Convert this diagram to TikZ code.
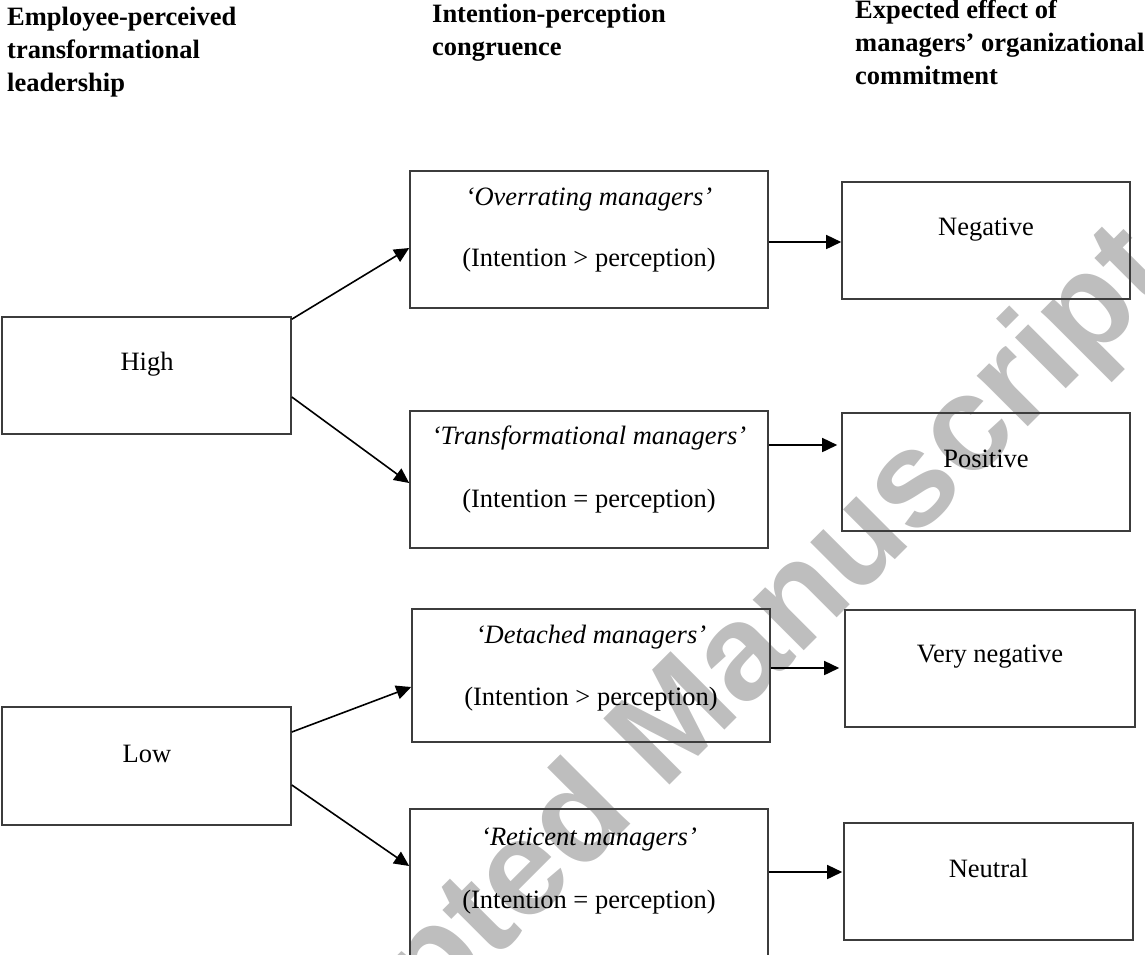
\documentclass[tikz,border=0pt]{standalone}
\usepackage{fontspec}
\setmainfont{Liberation Serif}
\newfontfamily\wmfont{Liberation Sans}
\usetikzlibrary{arrows.meta}
\definecolor{wmgray}{RGB}{190,190,190}
\definecolor{boxline}{RGB}{60,60,60}
\tikzset{
  box/.style={draw=boxline, line width=1.6pt, rectangle, inner sep=0pt},
  lbl/.style={anchor=base, inner sep=0pt, font=\fontsize{26.5}{31}\selectfont},
  ilbl/.style={lbl, font=\fontsize{26.5}{31}\selectfont\itshape},
  head/.style={anchor=base west, inner sep=0pt, font=\fontsize{26.5}{31}\selectfont\bfseries},
  arr/.style={draw=black, line width=1.6pt, -{Triangle[length=15pt,width=14pt]}},
}
\begin{document}
\begin{tikzpicture}[x=1pt,y=-1pt]
\useasboundingbox (0,0) rectangle (1145,954);
\clip (0,0) rectangle (1145,954);
% watermark
\node[anchor=base west, inner sep=0pt, rotate=45, text=wmgray,
      font=\fontsize{136}{136}\selectfont\wmfont\bfseries] (wm) at (204,1251) {Accepted Manuscript};
% headers
\node[head] (h1a) at (7,25) {Employee-perceived};
\node[head] (h1b) at (7,58) {transformational};
\node[head] (h1c) at (7,91) {leadership};
\node[head] (h2a) at (432,22) {Intention-perception};
\node[head] (h2b) at (432,55) {congruence};
\node[head] (h3a) at (855,18) {Expected effect of};
\node[head] (h3b) at (855,51) {managers’ organizational};
\node[head] (h3c) at (855,84) {commitment};
% boxes
\node[box, minimum width=289pt, minimum height=117pt] (high) at (146.5,375.5) {};
\node[box, minimum width=289pt, minimum height=118pt] (low) at (146.5,766) {};
\node[box, minimum width=358pt, minimum height=137pt] (over) at (589,239.5) {};
\node[box, minimum width=358pt, minimum height=137pt] (trans) at (589,479.5) {};
\node[box, minimum width=358pt, minimum height=133pt] (det) at (591,675.5) {};
\node[box, minimum width=358pt, minimum height=166pt] (ret) at (589,892) {};
\node[box, minimum width=288pt, minimum height=117pt] (neg) at (986,240.5) {};
\node[box, minimum width=288pt, minimum height=118pt] (pos) at (986,472) {};
\node[box, minimum width=290pt, minimum height=117pt] (vneg) at (990,668.5) {};
\node[box, minimum width=289pt, minimum height=117pt] (neu) at (988.5,881.5) {};
% texts
\node[lbl] (thigh) at (147,370) {High};
\node[lbl] (tlow) at (147,762) {Low};
\node[ilbl] (tover1) at (589,205) {‘Overrating managers’};
\node[lbl] (tover2) at (589,266) {(Intention > perception)};
\node[ilbl] (ttrans1) at (589,444) {‘Transformational managers’};
\node[lbl] (ttrans2) at (589,507) {(Intention = perception)};
\node[ilbl] (tdet1) at (591,643) {‘Detached managers’};
\node[lbl] (tdet2) at (591,705) {(Intention > perception)};
\node[ilbl] (tret1) at (589,845) {‘Reticent managers’};
\node[lbl] (tret2) at (589,908) {(Intention = perception)};
\node[lbl] (tneg) at (986,235) {Negative};
\node[lbl] (tpos) at (986,467) {Positive};
\node[lbl] (tvneg) at (990,662) {Very negative};
\node[lbl] (tneu) at (988.5,877) {Neutral};
% connectors
\draw[arr] ([yshift=-3pt]high.north east) -- ([yshift=-8.5pt]over.west);
\draw[arr] ([yshift=-21.5pt]high.east) -- ([yshift=-3.5pt]trans.west);
\draw[arr] ([yshift=34pt]low.east) -- ([yshift=-11.5pt]det.west);
\draw[arr] ([yshift=-19pt]low.east) -- ([yshift=26pt]ret.west);
\draw[arr] ([yshift=-2.5pt]over.east) -- ([yshift=-2.5pt]over.east -| neg.west);
\draw[arr, shorten >=4pt] ([yshift=34.5pt]trans.east) -- ([yshift=34.5pt]trans.east -| pos.west);
\draw[arr, shorten >=5pt] ([yshift=7.5pt]det.east) -- ([yshift=7.5pt]det.east -| vneg.west);
\draw[arr, shorten >=1pt] ([yshift=20pt]ret.east) -- ([yshift=20pt]ret.east -| neu.west);
\end{tikzpicture}
\end{document}
